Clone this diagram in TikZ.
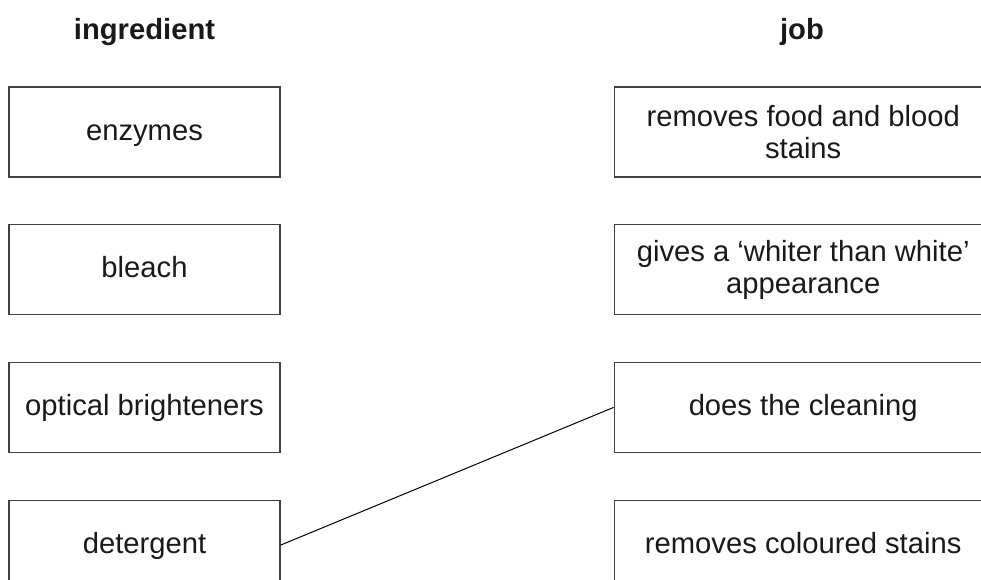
\documentclass[tikz,border=0pt]{standalone}
\usepackage{fontspec}
\setmainfont{Liberation Sans}
\usetikzlibrary{positioning}

\begin{document}
\begin{tikzpicture}[x=0.5pt,y=0.5pt,
  font=\fontsize{14.6pt}{16pt}\selectfont,text=black!90,
  ingbox/.style={draw=black!75,line width=0.6pt,minimum width=135.5pt,minimum height=45pt,align=center,inner sep=2pt},
  jobbox/.style={ingbox,minimum width=189pt},
  single/.style={text height=0.9em,text depth=0.1em},
  head/.style={font=\fontsize{14.6pt}{16pt}\selectfont\bfseries},
  link/.style={line width=0.5pt}]
\clip (0,0) rectangle (981,-579);
\node[head] (hing) at (144.5,-32) {ingredient};
\node[head] (hjob) at (802,-32) {job};
% left column
\node[ingbox,single] (enz) at (144.5,-132) {enzymes};
\node[ingbox,single,below=23.25pt of enz] (bleach) {bleach};
\node[ingbox,single,below=23.25pt of bleach] (optic) {optical brighteners};
\node[ingbox,single,below=23.25pt of optic] (deter) {detergent};
% right column
\node[jobbox,right=166.5pt of enz] (stains) {removes food and blood\\stains};
\node[jobbox,right=166.5pt of bleach] (whiter) {gives a ‘whiter than white’\\appearance};
\node[jobbox,single,right=166.5pt of optic] (clean) {does the cleaning};
\node[jobbox,single,right=166.5pt of deter] (colour) {removes coloured stains};
\draw[link] (deter.east) -- (clean.west);
\end{tikzpicture}
\end{document}
